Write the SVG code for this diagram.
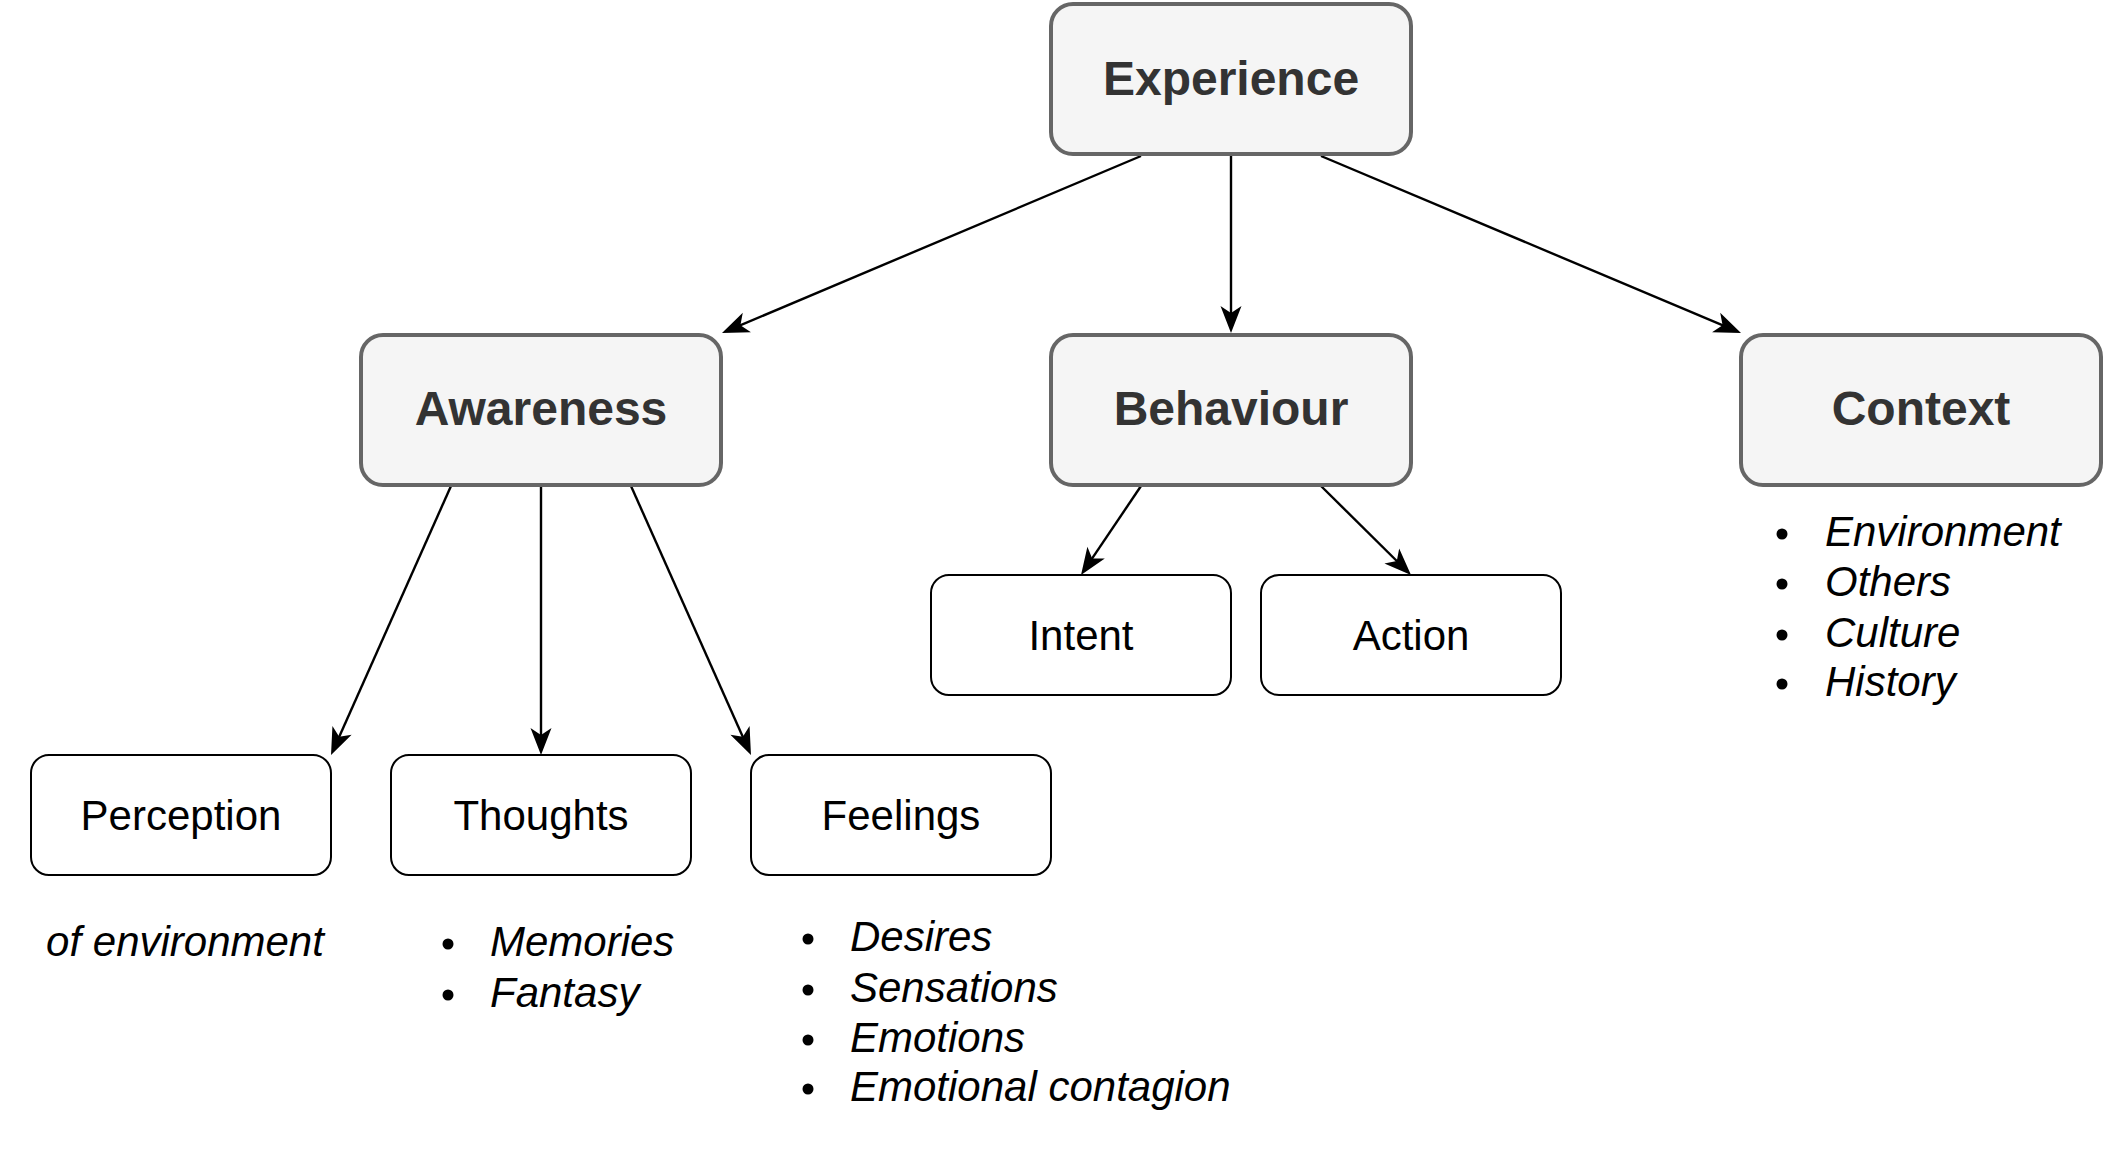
<svg xmlns="http://www.w3.org/2000/svg" width="2115" height="1173" viewBox="0 0 2115 1173">
<style>
.main rect{fill:#f5f5f5;stroke:#666666;stroke-width:4}
.main text{font-family:"Liberation Sans",Arial,Helvetica,sans-serif;font-weight:bold;font-size:48px;fill:#333333;text-anchor:middle}
.sub rect{fill:#ffffff;stroke:#000000;stroke-width:2}
.sub text{font-family:"Liberation Sans",Arial,Helvetica,sans-serif;font-size:42px;fill:#000000;text-anchor:middle}
.list text{font-family:"Liberation Sans",Arial,Helvetica,sans-serif;font-size:42px;font-style:italic;fill:#000000}
.list circle{fill:#000000}
.conn path{fill:none;stroke:#000000;stroke-width:2.4}
</style>
<defs>
<marker id="arr" markerUnits="userSpaceOnUse" viewBox="-20 -12 32 24" refX="0" refY="0" markerWidth="32" markerHeight="24" orient="auto" overflow="visible">
<path d="M10,0 L-17,-10.5 L-10,0 L-17,10.5 Z" fill="#000000"/>
</marker>
</defs>
<rect width="2115" height="1173" fill="#ffffff"/>
<g id="connectors" class="conn">
<path d="M1141,156 L731.2,329.1" marker-end="url(#arr)"/>
<path d="M1231,156 L1231,323" marker-end="url(#arr)"/>
<path d="M1321,156 L1731.8,329.1" marker-end="url(#arr)"/>
<path d="M451,486 L335.1,745.9" marker-end="url(#arr)"/>
<path d="M541,486 L541,745" marker-end="url(#arr)"/>
<path d="M631,486 L746.9,745.9" marker-end="url(#arr)"/>
<path d="M1141,486 L1086.6,566.7" marker-end="url(#arr)"/>
<path d="M1321,486 L1403.9,568" marker-end="url(#arr)"/>
</g>
<g id="experience" class="main"><rect x="1051" y="4" width="360" height="150" rx="22" ry="22"/><text x="1231" y="95">Experience</text></g>
<g id="awareness" class="main"><rect x="361" y="335" width="360" height="150" rx="22" ry="22"/><text x="541" y="425">Awareness</text></g>
<g id="behaviour" class="main"><rect x="1051" y="335" width="360" height="150" rx="22" ry="22"/><text x="1231" y="425">Behaviour</text></g>
<g id="context" class="main"><rect x="1741" y="335" width="360" height="150" rx="22" ry="22"/><text x="1921" y="425">Context</text></g>
<g id="perception" class="sub"><rect x="31" y="755" width="300" height="120" rx="18" ry="18"/><text x="181" y="830">Perception</text></g>
<g id="thoughts" class="sub"><rect x="391" y="755" width="300" height="120" rx="18" ry="18"/><text x="541" y="830">Thoughts</text></g>
<g id="feelings" class="sub"><rect x="751" y="755" width="300" height="120" rx="18" ry="18"/><text x="901" y="830">Feelings</text></g>
<g id="intent" class="sub"><rect x="931" y="575" width="300" height="120" rx="18" ry="18"/><text x="1081" y="650">Intent</text></g>
<g id="action" class="sub"><rect x="1261" y="575" width="300" height="120" rx="18" ry="18"/><text x="1411" y="650">Action</text></g>
<g id="perception-note" class="list"><text x="185" y="956" text-anchor="middle">of environment</text></g>
<g id="thoughts-list" class="list">
<circle cx="448" cy="944" r="5.5"/><text x="490" y="956">Memories</text>
<circle cx="448" cy="995" r="5.5"/><text x="490" y="1007">Fantasy</text>
</g>
<g id="feelings-list" class="list">
<circle cx="808" cy="939" r="5.5"/><text x="850" y="951">Desires</text>
<circle cx="808" cy="990" r="5.5"/><text x="850" y="1002">Sensations</text>
<circle cx="808" cy="1040" r="5.5"/><text x="850" y="1052">Emotions</text>
<circle cx="808" cy="1089" r="5.5"/><text x="850" y="1101">Emotional contagion</text>
</g>
<g id="context-list" class="list">
<circle cx="1782" cy="534" r="5.5"/><text x="1825" y="546">Environment</text>
<circle cx="1782" cy="584" r="5.5"/><text x="1825" y="596">Others</text>
<circle cx="1782" cy="635" r="5.5"/><text x="1825" y="647">Culture</text>
<circle cx="1782" cy="684" r="5.5"/><text x="1825" y="696">History</text>
</g>
</svg>
